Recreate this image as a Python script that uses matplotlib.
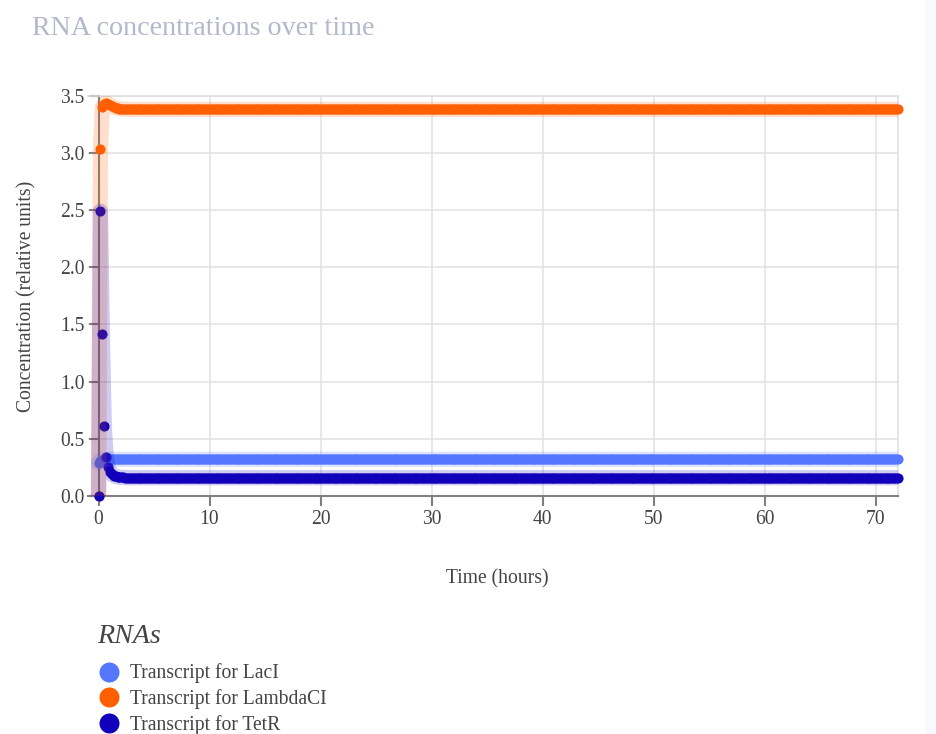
import numpy as np
import matplotlib
matplotlib.use("Agg")
import matplotlib.pyplot as plt
from matplotlib.lines import Line2D
from matplotlib.patches import Rectangle

# ---------------- data ----------------
n_points = 421
time_hours = np.linspace(0, 72, n_points)

series_names = ["Transcript for LacI", "Transcript for LambdaCI", "Transcript for TetR"]
series_colors = ["#5577ff", "#ff5f00", "#1100bb"]

laci_early = [0.29, 0.31, 0.318, 0.321]
laci_steady = 0.321
lambda_early = [0.00, 3.03, 3.40, 3.43, 3.44, 3.43, 3.42, 3.41, 3.40, 3.395,
                3.39, 3.388, 3.385, 3.383, 3.382, 3.381]
lambda_steady = 3.38
tetr_early = [0.00, 2.49, 1.42, 0.61, 0.34, 0.25, 0.21, 0.19, 0.178, 0.171,
              0.167, 0.164, 0.163, 0.162, 0.161]
tetr_steady = 0.16

def full_series(early, steady):
    return list(early) + [steady] * (n_points - len(early))

laci = full_series(laci_early, laci_steady)
lambda_ci = full_series(lambda_early, lambda_steady)
tetr = full_series(tetr_early, tetr_steady)
series_values = [laci, lambda_ci, tetr]

x_ticks = [0, 10, 20, 30, 40, 50, 60, 70]
y_ticks = [0.0, 0.5, 1.0, 1.5, 2.0, 2.5, 3.0, 3.5]

# ---------------- figure ----------------
W, H = 936, 734
plt.rcParams["font.family"] = ["Liberation Serif", "DejaVu Serif"]
fig = plt.figure(figsize=(W / 100, H / 100), dpi=100)
fig.patch.set_facecolor("white")
fig.patches.append(Rectangle((925 / W, 0), 1 - 925 / W, 1, transform=fig.transFigure,
                             facecolor="#f8f9fe", edgecolor="none", zorder=0))

left, right, top, bottom = 88, 898, 95.7, 496
ax = fig.add_axes([left / W, 1 - bottom / H, (right - left) / W, (bottom - top) / H])
ax.set_xlim(-0.95, 72)
ax.set_ylim(0, 3.5)

ax.grid(True, color="#e1e1e1", lw=1.1, zorder=0)
ax.set_axisbelow(True)

for vals, col in zip(series_values, series_colors):
    ax.plot(time_hours, vals, ls="none", marker="o", ms=7.3, mec="none", mfc=col,
            zorder=3, clip_on=False)
for vals, col in zip(series_values, series_colors):
    ax.plot(time_hours, vals, color=col, lw=11, alpha=0.2, solid_capstyle="round",
            solid_joinstyle="round", zorder=4)

ax.spines["left"].set_position(("data", 0))
for s in ("left", "bottom"):
    ax.spines[s].set_color("#808080")
    ax.spines[s].set_linewidth(1.5)
    ax.spines[s].set_zorder(2.5)
for s in ("right", "top"):
    ax.spines[s].set_color("#dedede")
    ax.spines[s].set_linewidth(1.1)

ax.set_xticks(x_ticks)
ax.set_xticklabels([str(v) for v in x_ticks])
ax.set_yticks(y_ticks)
ax.set_yticklabels([f"{v:.1f}" for v in y_ticks])
ax.tick_params(axis="both", length=7.2, width=1.5, color="#808080",
               labelcolor="#444444", labelsize=14.1, pad=2.9)

fig.text(497 / W, 1 - 583 / H, "Time (hours)", ha="center", va="baseline",
         fontsize=14.1, color="#444444")
fig.text(27 / W, 1 - 296 / H, "Concentration (relative units)", ha="center",
         va="center", rotation=90, fontsize=14.1, color="#444444")

fig.text(32 / W, 1 - 35 / H, "RNA concentrations over time", ha="left",
         va="baseline", fontsize=20.2, color="#b3b8cc")

# legend
fig.text(96.7 / W, 1 - 643.3 / H, "RNAs", ha="left", va="baseline",
         fontsize=20.2, style="italic", color="#444444")
circle_y = [671.7, 697.3, 723.3]
text_base = [678.3, 704.3, 730.0]
for name, col, cy, ty in zip(series_names, series_colors, circle_y, text_base):
    fig.add_artist(Line2D([109.3 / W], [1 - cy / H], marker="o", ms=14.4,
                          mfc=col, mec="none", ls="none", transform=fig.transFigure))
    fig.text(130 / W, 1 - ty / H, name, ha="left", va="baseline",
             fontsize=14.1, color="#444444")

fig.savefig("out.png", dpi=100)
